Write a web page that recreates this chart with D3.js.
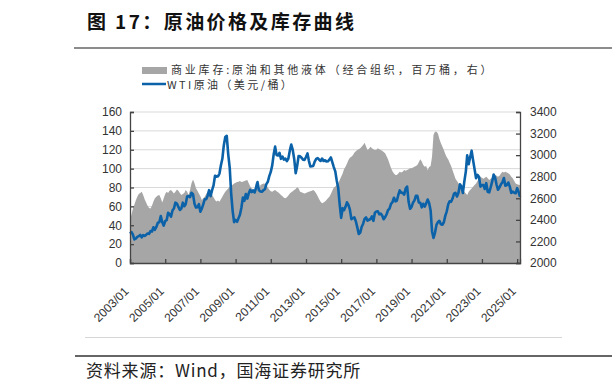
<!DOCTYPE html>
<html><head><meta charset="utf-8">
<script src="https://cdn.jsdelivr.net/npm/d3@7/dist/d3.min.js"></script>
<style>
html,body{margin:0;padding:0;background:#fff;}
svg{display:block;}
</style></head>
<body><svg id="c" width="612" height="383"></svg>
<script>
const startMonth = "2003/01";
const leftTicks = [0,20,40,60,80,100,120,140,160];
const rightTicks = [2000,2200,2400,2600,2800,3000,3200,3400];
const xTickLabels = ["2003/01","2005/01","2007/01","2009/01","2011/01","2013/01","2015/01","2017/01","2019/01","2021/01","2023/01","2025/01"];
const legendArea = "商业库存:原油和其他液体（经合组织，百万桶，右）";
const legendLine = "WTI原油（美元/桶）";

// monthly oil price, 2003/01 - 2025/03
const oil = [
31.2,32.8,30.3,25.0,25.8,27.6,28.4,29.8,27.1,29.6,28.8,29.8,
31.2,30.9,33.8,33.4,37.9,35.2,38.2,42.7,43.2,49.8,43.1,39.6,
44.5,45.5,53.1,51.9,49.0,55.6,57.9,63.9,63.0,59.4,56.2,57.6,
63.9,60.2,62.3,70.4,70.9,69.8,74.4,73.0,62.8,58.8,59.2,62.3,
54.3,57.8,62.1,67.4,67.5,71.3,77.2,70.8,77.1,82.3,92.5,91.5,
91.9,94.8,103.3,110.4,124.6,133.5,134.8,115.2,100.8,73.6,55.0,43.3,
45.6,43.7,47.3,51.2,58.6,69.3,65.8,73.1,68.2,73.9,77.5,75.2,
76.9,74.7,79.9,85.7,77.0,75.7,75.5,77.1,78.2,83.5,86.1,92.0,
96.5,103.7,114.6,123.3,114.5,113.9,116.7,110.4,112.8,109.6,110.5,107.9,
110.7,119.3,125.5,119.8,110.3,95.2,102.6,113.4,113.0,111.5,109.5,109.2,
112.3,116.1,108.5,102.3,102.6,102.9,107.4,110.3,111.2,109.5,108.1,110.7,
108.1,108.9,107.5,107.8,109.5,111.8,106.8,101.6,97.1,87.4,79.4,62.3,
47.8,58.1,55.9,59.5,64.3,61.5,56.6,46.5,47.6,48.4,44.3,38.0,
30.7,32.2,38.2,41.6,46.7,48.3,44.9,45.8,46.6,49.5,44.7,53.3,
54.6,54.9,51.6,52.3,50.3,46.4,48.5,51.7,56.2,57.5,62.7,64.4,
69.1,65.3,66.0,72.1,76.9,74.4,74.3,72.5,78.9,81.0,64.8,57.4,
59.4,64.0,66.1,71.2,71.3,64.2,63.9,59.0,62.8,59.7,63.2,67.3,
63.6,55.5,33.7,26.6,32.0,40.3,43.2,44.7,41.0,40.5,43.2,49.9,
54.8,62.3,65.4,64.8,68.3,73.4,74.3,70.5,74.5,83.5,81.1,74.2,
86.5,97.1,114.0,104.6,112.0,119.0,109.0,99.5,89.8,93.3,91.4,80.9,
82.5,82.6,78.4,84.6,75.5,74.8,80.1,86.2,93.7,90.6,82.9,77.6,
80.1,83.5,85.4,90.1,81.8,82.6,85.3,80.9,74.3,75.6,74.4,73.9,
79.3,75.2,70.0
];

// monthly OECD commercial inventory (million barrels)
const inventory = [
2400,2450,2500,2540,2580,2615,2640,2650,2660,2630,2590,2560,
2530,2510,2505,2530,2570,2600,2615,2625,2630,2600,2560,2600,
2640,2661,2650,2670,2676,2660,2645,2660,2682,2670,2650,2630,
2640,2650,2676,2660,2630,2680,2740,2775,2740,2692,2670,2645,
2620,2584,2600,2615,2640,2660,2676,2660,2630,2610,2584,2570,
2580,2569,2590,2615,2640,2660,2676,2690,2707,2715,2725,2738,
2745,2750,2754,2760,2750,2754,2760,2765,2770,2740,2710,2692,
2680,2677,2754,2700,2661,2723,2730,2738,2735,2720,2700,2680,
2665,2661,2670,2676,2665,2655,2645,2630,2620,2605,2600,2610,
2625,2645,2655,2665,2676,2685,2702,2690,2661,2655,2650,2645,
2650,2655,2661,2665,2670,2676,2665,2645,2620,2590,2569,2554,
2560,2570,2584,2600,2615,2640,2670,2700,2710,2725,2738,2770,
2800,2830,2870,2893,2920,2955,2975,2986,3000,3023,3035,3048,
3055,3065,3078,3095,3116,3080,3048,3060,3078,3065,3055,3048,
3050,3063,3055,3048,3040,3030,3017,2990,2960,2920,2880,2850,
2830,2816,2816,2830,2847,2840,2845,2862,2855,2862,2870,2878,
2878,2885,2893,2900,2909,2935,2961,2940,2909,2893,2900,2860,
2890,2900,2986,3190,3218,3218,3200,3150,3110,3080,3048,3010,
2980,2960,2930,2900,2860,2820,2780,2760,2740,2700,2690,2676,
2660,2645,2630,2661,2677,2690,2707,2723,2738,2760,2785,2800,
2790,2780,2790,2800,2785,2770,2780,2790,2800,2816,2810,2800,
2810,2830,2847,2840,2847,2840,2831,2820,2800,2785,2760,2738,
2730,2725,2723
];

const parse = d3.timeParse("%Y/%m");
const t0 = parse(startMonth);
const dates = oil.map((_, i) => d3.timeMonth.offset(t0, i));
const rows = dates.map((d, i) => ({d, oil: oil[i], inv: inventory[i]}));

const svg = d3.select("#c");
const L = 130, R = 520, T = 112, B = 263;
const x = d3.scaleTime().domain([dates[0], dates[dates.length-1]]).range([L, R]);
const yL = d3.scaleLinear().domain([0,160]).range([B, T]);
const yR = d3.scaleLinear().domain([2000,3400]).range([B, T]);

const cjk = "'Noto Sans CJK SC','Noto Sans',sans-serif";
const lat = "'Liberation Sans',Arial,sans-serif";
const blue = "#0b62a8";

// title
svg.append("text").attr("x", 87).attr("y", 29).attr("font-family", cjk).attr("font-weight", "bold")
  .attr("font-size", 19).attr("letter-spacing", 2.4).attr("fill", "#111").text("图 17：原油价格及库存曲线");
svg.append("line").attr("x1", 74).attr("x2", 612).attr("y1", 48).attr("y2", 48).attr("stroke", "#666").attr("stroke-width", 1.5);

// legend
svg.append("rect").attr("x", 142).attr("y", 67).attr("width", 25).attr("height", 7).attr("fill", "#a6a6a6");
svg.append("text").attr("x", 171).attr("y", 74).attr("font-family", cjk).attr("font-size", 11)
  .attr("letter-spacing", 2.8).attr("fill", "#333").text(legendArea);
svg.append("line").attr("x1", 142).attr("x2", 166).attr("y1", 84).attr("y2", 84).attr("stroke", blue).attr("stroke-width", 2.5);
svg.append("text").attr("x", 167).attr("y", 88.5).attr("font-family", cjk).attr("font-size", 11)
  .attr("letter-spacing", 2.4).attr("fill", "#333").text(legendLine);

// grid
svg.append("g").selectAll("line").data(leftTicks.filter(v => v > 0)).join("line")
  .attr("x1", L).attr("x2", R).attr("y1", d => yL(d)).attr("y2", d => yL(d))
  .attr("stroke", "#d9d9d9").attr("stroke-width", 1);

// area
svg.append("path").datum(rows)
  .attr("d", d3.area().x(d => x(d.d)).y0(yR(2000)).y1(d => yR(d.inv)))
  .attr("fill", "#a6a6a6");

// line
svg.append("path").datum(rows)
  .attr("d", d3.line().x(d => x(d.d)).y(d => yL(d.oil)))
  .attr("fill", "none").attr("stroke", blue).attr("stroke-width", 2.6).attr("stroke-linejoin", "round");

// axes
const axL = svg.append("g").attr("transform", `translate(${L},0)`)
  .call(d3.axisLeft(yL).tickValues(leftTicks).tickSize(-4).tickPadding(8));
const axR = svg.append("g").attr("transform", `translate(${R},0)`)
  .call(d3.axisRight(yR).tickValues(rightTicks).tickFormat(d3.format("d")).tickSize(-4).tickPadding(10));
const xTicks = xTickLabels.map(s => parse(s));
const axB = svg.append("g").attr("transform", `translate(0,${B})`)
  .call(d3.axisBottom(x).tickValues(xTicks).tickFormat(d3.timeFormat("%Y/%m")).tickSize(-4).tickPadding(0));
[axL, axR, axB].forEach(a => {
  a.selectAll("path.domain").attr("stroke", "#444").attr("stroke-width", 1.3);
  a.selectAll(".tick line").attr("stroke", "#444").attr("stroke-width", 1.3);
  a.selectAll("text").attr("font-family", lat).attr("font-size", 12).attr("fill", "#333");
});
axB.selectAll(".tick text").attr("text-anchor", "end").attr("y", 0).attr("dy", 0)
  .attr("transform", "translate(-1,29) rotate(-45)");

// bottom
svg.append("line").attr("x1", 85).attr("x2", 562).attr("y1", 337.5).attr("y2", 337.5).attr("stroke", "#d6d6d6").attr("stroke-width", 1);
svg.append("line").attr("x1", 75).attr("x2", 612).attr("y1", 356).attr("y2", 356).attr("stroke", "#333").attr("stroke-width", 1.5);
svg.append("text").attr("x", 86).attr("y", 377).attr("font-family", cjk).attr("font-size", 17)
  .attr("letter-spacing", 0.8).attr("fill", "#222").text("资料来源：Wind，国海证券研究所");
</script></body></html>
